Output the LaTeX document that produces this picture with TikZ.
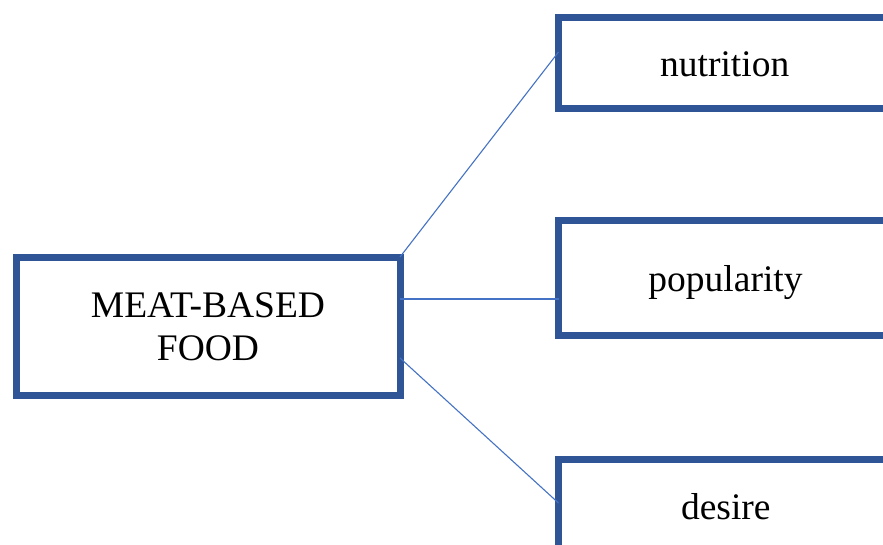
\documentclass[tikz,border=0pt]{standalone}
\usepackage{fontspec}
\setmainfont{Liberation Serif}
\newfontfamily\timesfont{Liberation Serif}
\definecolor{boxblue}{HTML}{2F5597}
\definecolor{lineblue}{HTML}{4472C4}
\begin{document}
\begin{tikzpicture}[x=1pt,y=-1pt,
  box/.style={draw=boxblue, line width=7pt, rectangle, inner sep=0pt, outer sep=0pt, fill=white},
  conn/.style={draw=lineblue, line width=1.1pt},
  lbl/.style={anchor=base, inner sep=0pt, font=\timesfont\fontsize{37.5}{43.5}\selectfont}]
\useasboundingbox (0,0) rectangle (883,544);
\clip (0,0) rectangle (883,544);
\node[box, minimum width=383.5pt, minimum height=138pt] (meat) at (208.25,326) {};
\node[box, minimum width=333.5pt, minimum height=90.5pt] (nut) at (725.25,62.75) {};
\node[box, minimum width=333.5pt, minimum height=115pt] (pop) at (725.25,278) {};
\node[box, minimum width=333.5pt, minimum height=115pt] (des) at (725.25,516.5) {};
\draw[conn] (meat.north east) -- ([yshift=10.75pt]nut.west);
\draw[conn] ([yshift=27pt]meat.east) -- ([yshift=-21pt]pop.west);
\draw[conn] ([yshift=-32pt]meat.east) -- ([yshift=13.5pt]des.west);
\node[lbl] (t1) at (208,317) {MEAT-BASED};
\node[lbl] (t2) at (208,360.7) {FOOD};
\node[lbl] (t3) at (724.7,76.7) {nutrition};
\node[lbl] (t4) at (725.5,291.7) {popularity};
\node[lbl] (t5) at (725.8,519) {desire};
\end{tikzpicture}
\end{document}
